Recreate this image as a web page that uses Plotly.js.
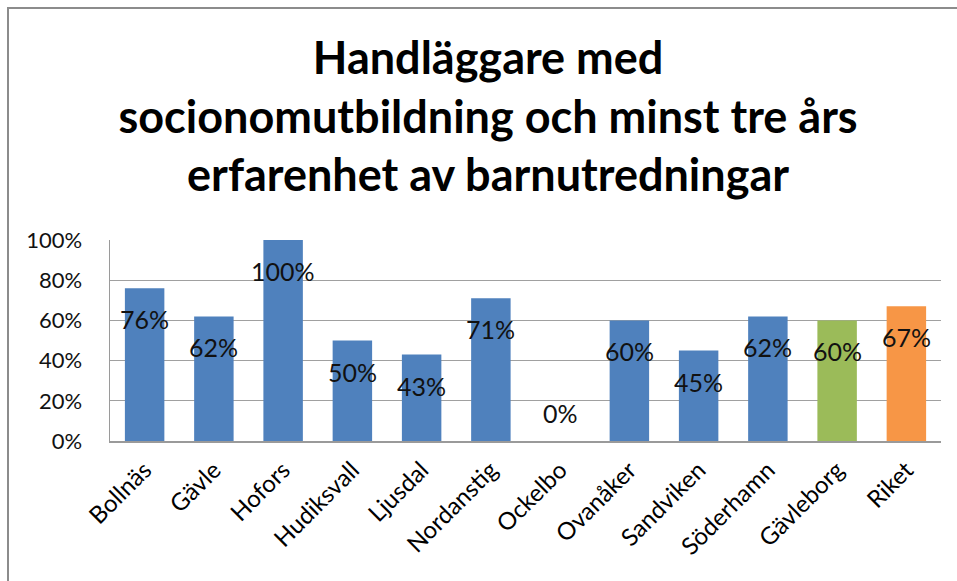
<!DOCTYPE html>
<html>
<head>
<meta charset="utf-8">
<script src="https://cdn.plot.ly/plotly-3.0.1.min.js"></script>
<style>
html,body{margin:0;padding:0;background:#fff;}
#chart{width:957px;height:581px;position:absolute;left:0;top:0;}
#frame{position:absolute;left:7px;top:7px;width:1000px;height:1000px;border-left:2px solid #8c8c8c;border-top:2px solid #8c8c8c;pointer-events:none;}
</style>
</head>
<body>
<div id="chart"></div>
<div id="frame"></div>
<script>
const categories = ["Bollnäs","Gävle","Hofors","Hudiksvall","Ljusdal","Nordanstig","Ockelbo","Ovanåker","Sandviken","Söderhamn","Gävleborg","Riket"];
const values = [0.76,0.62,1.00,0.50,0.43,0.71,0.00,0.60,0.45,0.62,0.60,0.67];
const labels = ["76%","62%","100%","50%","43%","71%","0%","60%","45%","62%","60%","67%"];
const barColors = ["#4F81BD","#4F81BD","#4F81BD","#4F81BD","#4F81BD","#4F81BD","#4F81BD","#4F81BD","#4F81BD","#4F81BD","#9BBB59","#F79646"];
const yTicks = [0,0.2,0.4,0.6,0.8,1.0];
const yTickLabels = ["0%","20%","40%","60%","80%","100%"];
const titleText = "Handläggare med<br>socionomutbildning och minst tre års<br>erfarenhet av barnutredningar";

const FONT = "Lato, 'Open Sans', sans-serif";

const trace = {
  type: "bar",
  x: categories,
  y: values,
  marker: {color: barColors},
  hoverinfo: "none"
};

const annotations = categories.map((c, i) => ({
  x: c, y: values[i], xref: "x", yref: "y",
  text: labels[i], showarrow: false,
  yanchor: "middle", xanchor: "center",
  yshift: values[i] > 0 ? -31 : 28,
  font: {family: FONT, size: 25, color: "#111"}
}));

const layout = {
  width: 957, height: 581,
  margin: {l: 110, r: 16, t: 240, b: 140},
  paper_bgcolor: "#fff", plot_bgcolor: "#fff",
  showlegend: false,
  bargap: 0.43,
  title: {
    text: titleText,
    font: {family: FONT, size: 45, color: "#000", weight: "bold"},
    x: 0.51, xanchor: "center", xref: "container",
    y: 0.872, yanchor: "top", yref: "container"
  },
  xaxis: {
    type: "category",
    tickangle: -45,
    tickfont: {family: FONT, size: 24, color: "#000"},
    showline: true, linecolor: "#9a9a9a", linewidth: 1.5,
    ticks: "", ticklabelstandoff: 4,
    showgrid: false, zeroline: false
  },
  yaxis: {
    range: [0, 1.0],
    tickvals: yTicks, ticktext: yTickLabels,
    tickfont: {family: FONT, size: 22, color: "#111"},
    showgrid: true, gridcolor: "#a0a0a0", gridwidth: 1.2,
    showline: true, linecolor: "#9a9a9a", linewidth: 1.5,
    ticks: "", ticklabelstandoff: 22,
    zeroline: false
  },
  annotations: annotations
};

Plotly.newPlot("chart", [trace], layout, {displayModeBar: false, staticPlot: true});
</script>
</body>
</html>
